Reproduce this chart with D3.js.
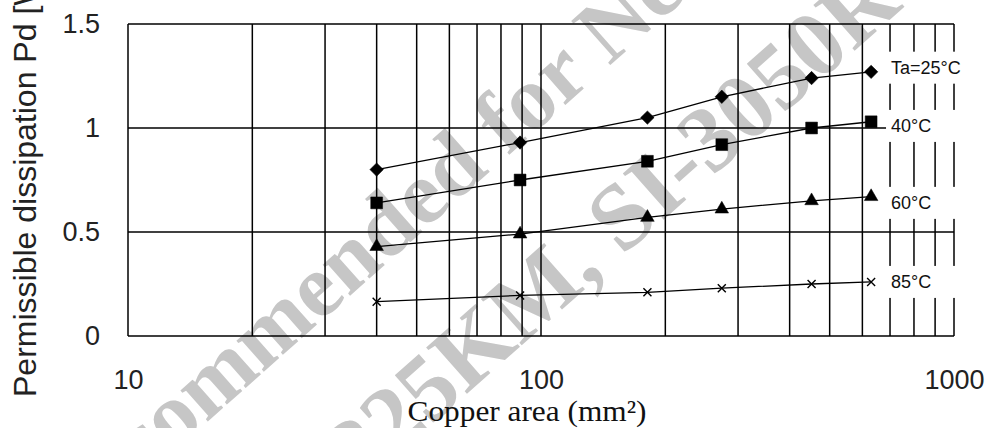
<!DOCTYPE html>
<html>
<head>
<meta charset="utf-8">
<script src="https://cdn.jsdelivr.net/npm/d3@7"></script>
<style>
  body { margin: 0; background: #fff; }
  svg { display: block; }
</style>
</head>
<body>
<svg id="pdChart" width="988" height="428"></svg>
<script>
// copper area on the board (mm2)
const areas = [40, 89, 181, 274, 452, 630];
// permissible dissipation Pd (W) per ambient temperature
const pd25 = [0.80, 0.93, 1.05, 1.15, 1.24, 1.27];
const pd40 = [0.64, 0.75, 0.84, 0.92, 1.00, 1.03];
const pd60 = [0.43, 0.49, 0.57, 0.61, 0.65, 0.67];
const pd85 = [0.165, 0.195, 0.21, 0.23, 0.25, 0.26];
const seriesNames = ['Ta=25°C', '40°C', '60°C', '85°C'];
// where each curve label sits, in Pd units
const labelPd = [1.29, 1.01, 0.64, 0.26];
const xTickValues = [10, 100, 1000];
const yTickValues = [0, 0.5, 1, 1.5];
const watermark = ['Not Recommended for New Design', 'S-1225KM, SI-3050R Series'];

function drawPdChart() {
    const svg = d3.select('#pdChart');
    svg.selectAll('*').remove();

    const margin = {top: 24, left: 128, right: 34, bottom: 92};
    const width = 988, height = 428;

    const x = d3.scaleLog().domain([10, 1000]).range([margin.left, width - margin.right]);
    const y = d3.scaleLinear().domain([0, 1.5]).range([height - margin.bottom, margin.top]);

    // watermark sits under everything
    const wm = svg.append('g')
        .attr('transform', 'translate(-28,642) rotate(-41.5)')
        .style('font-family', '"Liberation Serif", "DejaVu Serif", serif')
        .style('font-weight', 'bold')
        .style('font-size', '90px')
        .style('fill', '#c6c6c6');
    wm.append('text').attr('x', 0).attr('y', 0)
        .attr('transform', 'translate(-32,-9)')
        .text(watermark[0]);
    wm.append('text').attr('x', 0).attr('y', 0)
        .attr('transform', 'translate(262,142)')
        .style('font-size', '94px')
        .text(watermark[1]);

    // grid
    const grid = svg.append('g')
        .attr('stroke', '#000')
        .attr('stroke-width', 1.5);

    grid.selectAll('line.v')
        .data(x.ticks())
        .join('line')
        .attr('class', 'v')
        .attr('x1', d => x(d)).attr('x2', d => x(d))
        .attr('y1', y(0)).attr('y2', y(1.5));

    grid.selectAll('line.h')
        .data(yTickValues)
        .join('line')
        .attr('class', 'h')
        .attr('x1', x(10)).attr('x2', x(1000))
        .attr('y1', d => y(d)).attr('y2', d => y(d));

    // axes (labels only)
    const yAxis = svg.append('g')
        .attr('transform', `translate(${x(10)},0)`)
        .call(d3.axisLeft(y).tickValues(yTickValues).tickSize(0).tickPadding(28).tickFormat(d => String(d)));
    const xAxis = svg.append('g')
        .attr('transform', `translate(0,${y(0)})`)
        .call(d3.axisBottom(x).tickValues(xTickValues).tickSize(0).tickPadding(34).tickFormat(d3.format('d')));

    [yAxis, xAxis].forEach(a => {
        a.select('.domain').remove();
        a.selectAll('text')
            .style('font-family', '"Liberation Sans", Arial, sans-serif')
            .style('font-size', '27px')
            .style('fill', '#222');
    });

    svg.append('text')
        .attr('transform', `translate(36,${height - 31}) rotate(-90)`)
        .style('font-family', '"Liberation Sans", Arial, sans-serif')
        .style('font-size', '32px')
        .style('fill', '#222')
        .text('Permissible dissipation Pd [W]');

    svg.append('text')
        .attr('x', 527)
        .attr('y', height - 7)
        .attr('text-anchor', 'middle')
        .attr('textLength', 239)
        .attr('lengthAdjust', 'spacingAndGlyphs')
        .style('font-family', '"Liberation Serif", "DejaVu Serif", serif')
        .style('font-size', '30px')
        .style('fill', '#111')
        .text('Copper area  (mm²)');

    // series
    const crossSymbol = {
        draw(ctx, size) {
            const r = Math.sqrt(size) / 2;
            ctx.moveTo(-r, -r); ctx.lineTo(r, r);
            ctx.moveTo(r, -r); ctx.lineTo(-r, r);
        }
    };
    const series = [
        {name: seriesNames[0], values: pd25, symbol: d3.symbol(d3.symbolSquare, 90), rotate: 45, fill: true},
        {name: seriesNames[1], values: pd40, symbol: d3.symbol(d3.symbolSquare, 140), rotate: 0, fill: true},
        {name: seriesNames[2], values: pd60, symbol: d3.symbol(d3.symbolTriangle, 80), rotate: 0, fill: true},
        {name: seriesNames[3], values: pd85, symbol: d3.symbol(crossSymbol, 64), rotate: 0, fill: false}
    ];

    const line = d3.line()
        .x(d => x(d[0]))
        .y(d => y(d[1]));

    // label boxes knock out the grid on the right
    const labels = svg.append('g');
    series.forEach((s, i) => {
        const pts = areas.map((a, j) => [a, s.values[j]]);
        svg.append('path')
            .datum(pts)
            .attr('d', line)
            .attr('fill', 'none')
            .attr('stroke', '#000')
            .attr('stroke-width', 1.3);

        svg.selectAll(null)
            .data(pts)
            .join('path')
            .attr('transform', d => `translate(${x(d[0])},${y(d[1])}) rotate(${s.rotate})`)
            .attr('d', s.symbol)
            .attr('fill', s.fill ? '#000' : 'none')
            .attr('stroke', '#000')
            .attr('stroke-width', s.fill ? 0.5 : 1.4);

        labels.append('rect')
            .attr('x', x(700) - 4)
            .attr('y', y(labelPd[i]) - 16)
            .attr('width', 80)
            .attr('height', 32)
            .attr('fill', '#fff');
        labels.append('text')
            .attr('x', x(700) + 1)
            .attr('y', y(labelPd[i]))
            .attr('dy', '0.36em')
            .style('font-family', '"Liberation Sans", Arial, sans-serif')
            .style('font-size', '18px')
            .style('fill', '#111')
            .text(s.name);
    });
}

drawPdChart();
</script>
</body>
</html>
